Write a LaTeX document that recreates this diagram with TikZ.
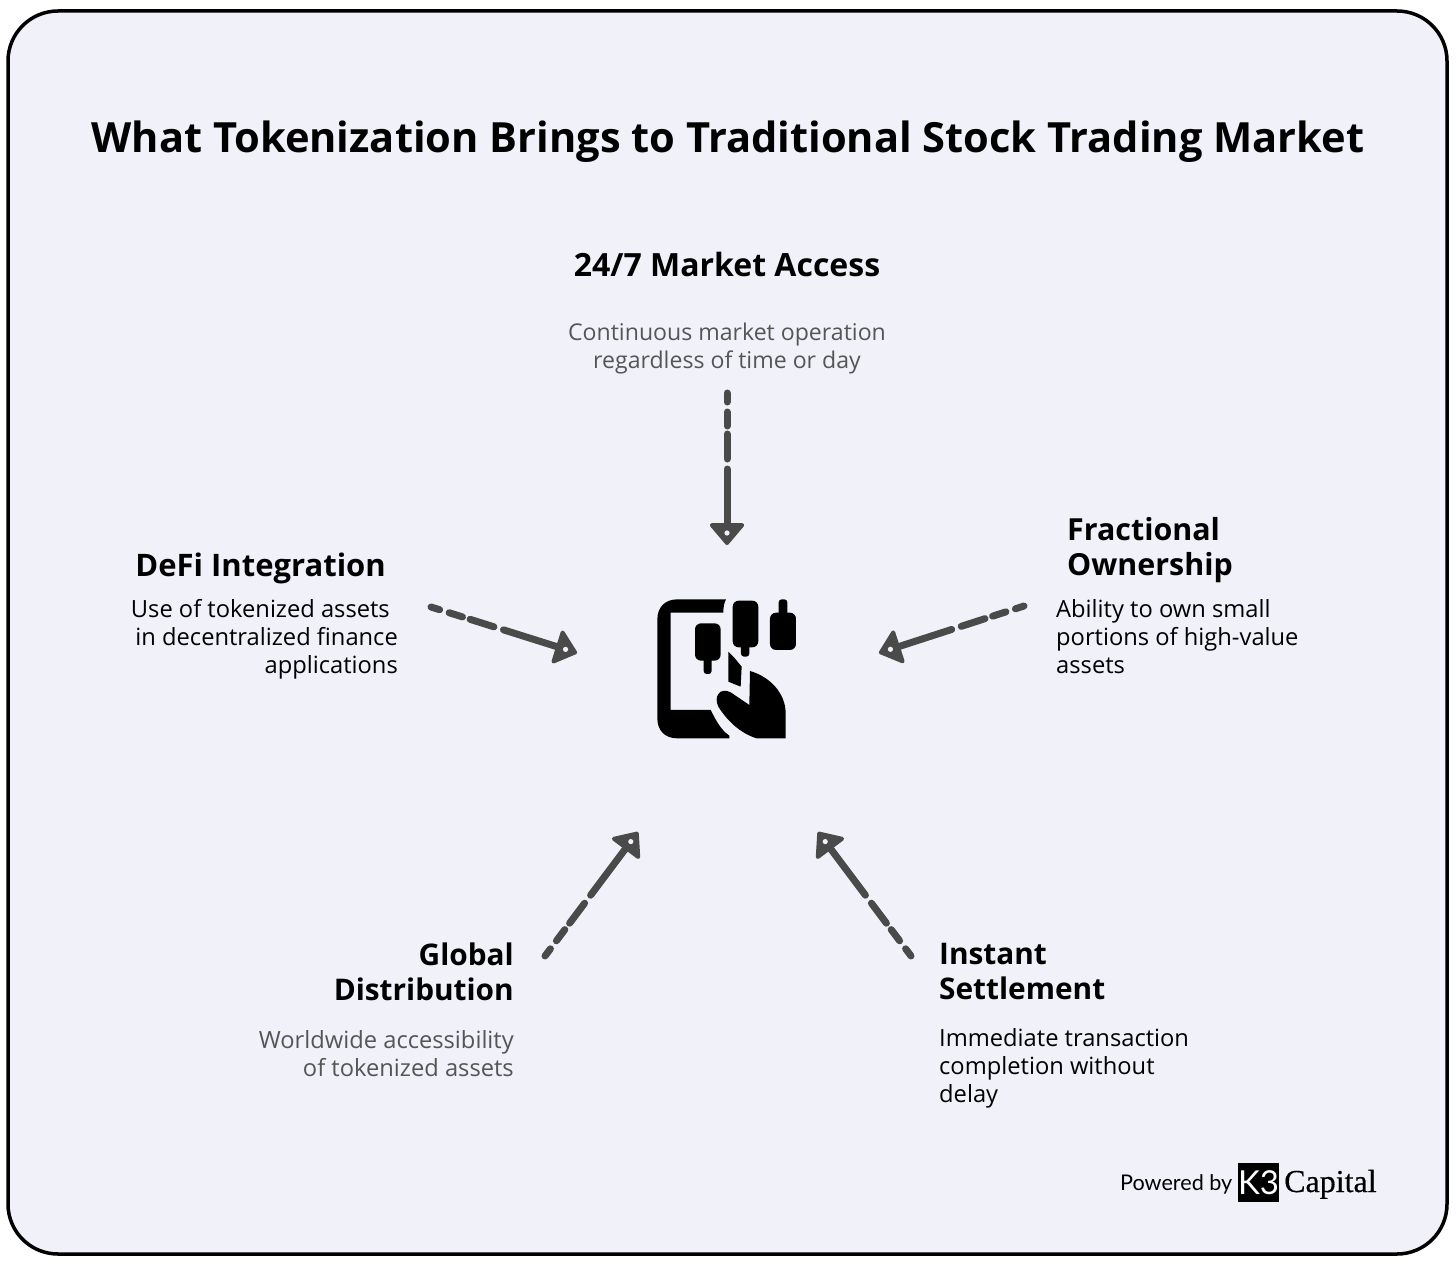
\documentclass[tikz,border=0pt]{standalone}
\usepackage{fontspec}
\usepackage{xcolor}
\setmainfont{Open Sans}
\newfontfamily\logofont[FakeBold=0.4]{Liberation Serif}
\newfontfamily\poweredfont{Lato}
\usetikzlibrary{arrows.meta,positioning,calc}
\definecolor{panelbg}{HTML}{F1F2F9}
\definecolor{flowgrey}{HTML}{4A4A4A}
\definecolor{descgrey}{HTML}{555555}
\tikzset{
  heading/.style={inner sep=0pt, font=\fontsize{#1}{35}\selectfont\bfseries},
  heading/.default=30.4,
  desc/.style={inner sep=0pt, font=\fontsize{#1}{28}\selectfont},
  desc/.default=23.7,
  flow/.style={flowgrey, line width=7pt, line cap=round,
    dash pattern=on 9pt off 10pt on 14pt off 8pt on 25pt off 10pt on 400pt,
    -{Triangle[round,length=23pt,width=38pt,line width=4pt]}},
}
\begin{document}
\begin{tikzpicture}[x=1pt,y=-1pt]
\useasboundingbox (0,0) rectangle (1456,1265);
% panel
\draw[line width=3.5pt, fill=panelbg, rounded corners=50pt] (8,11) rectangle (1447,1254);

% nodes
\node[inner sep=0pt, font=\fontsize{41.6}{48}\selectfont\bfseries] (title) at (728,142) {What Tokenization Brings to Traditional Stock Trading Market};

\node[heading=32] (market) at (727,265) {24/7 Market Access};
\node[desc=23.1, descgrey, align=center, below=58pt of market.center, anchor=north] (marketdesc) {Continuous market operation\\regardless of time or day};

\node[heading=31, anchor=east] (defi) at (386,568) {DeFi Integration};
\node[desc, align=right, anchor=north east] (defidesc) at (398,599) {Use of tokenized assets\hspace*{8pt}\\in decentralized finance\\applications};

\node[heading, align=left, anchor=north west] (own) at (1067,517) {Fractional\\Ownership};
\node[desc, align=left, anchor=north west] (owndesc) at (1056,599) {Ability to own small\\portions of high-value\\assets};

\node[heading=29.8, align=right, anchor=north east] (global) at (514,943) {Global\\Distribution};
\node[desc, descgrey, align=right, anchor=north east] (globaldesc) at (514,1030) {Worldwide accessibility\\of tokenized assets};

\node[heading=29.8, align=left, anchor=north west] (instant) at (939,943) {Instant\\Settlement};
\node[desc, align=left, anchor=north west] (instantdesc) at (939,1028) {Immediate transaction\\completion without\\delay};

% arrows
\coordinate (a1) at (727,393);
\coordinate (b1) at (727,545);
\coordinate (a2) at (431,607);
\coordinate (b2) at (577,653);
\coordinate (a3) at (1024,606);
\coordinate (b3) at (879,653);
\coordinate (a4) at (545,956);
\coordinate (b4) at (638,832);
\coordinate (a5) at (911,956);
\coordinate (b5) at (818,832);
\foreach \i in {1,...,5} {
  \draw[flow] (a\i) -- (b\i);
  \fill[panelbg] ($(b\i)!12pt!(a\i)$) circle (2.6pt);
}

% icon
\begin{scope}[shift={(620,570)},x=0.3333pt,y=-0.3333pt]
\fill (318,88) -- (172,88) .. controls (135,88) and (112,112) .. (112,148) -- (112,445) .. controls (112,482) and (135,505) .. (172,505) -- (328,505) -- (328,497) .. controls (300,478) and (285,445) .. (272,420) -- (152,420) -- (152,128) -- (310,128) .. controls (310,112) and (312,100) .. (318,88) -- cycle;
\fill[rounded corners=6pt] (225,160) rectangle (302,272);
\fill[rounded corners=3pt] (251,260) rectangle (275,312);
\fill[rounded corners=6pt] (338,92) rectangle (415,232);
\fill[rounded corners=3pt] (363,220) rectangle (388,260);
\fill[rounded corners=6pt] (450,128) rectangle (528,240);
\fill[rounded corners=3pt] (476,88) rectangle (502,140);
\fill (325,245) -- (342,262) -- (365,290) -- (362,350) -- (325,335) -- cycle;
\fill (390,303) .. controls (450,320) and (497,370) .. (497,430) -- (497,505) -- (410,505) .. controls (360,490) and (320,450) .. (295,410) .. controls (280,380) and (300,350) .. (332,367) -- (388,405) -- cycle;
\end{scope}

% logo
\node[inner sep=0pt, anchor=base west, font=\poweredfont\fontsize{21.6}{26}\selectfont] (powered) at (1120,1190) {Powered by};
\node[fill=black, text=white, minimum size=38.5pt, inner sep=0pt, font=\poweredfont\fontsize{33}{33}\selectfont] (k3) at (1258.5,1182.5) {K3};
\node[inner sep=0pt, anchor=base west, font=\logofont\fontsize{32}{36}\selectfont] (capital) at (1284,1192) {Capital};
\end{tikzpicture}
\end{document}
